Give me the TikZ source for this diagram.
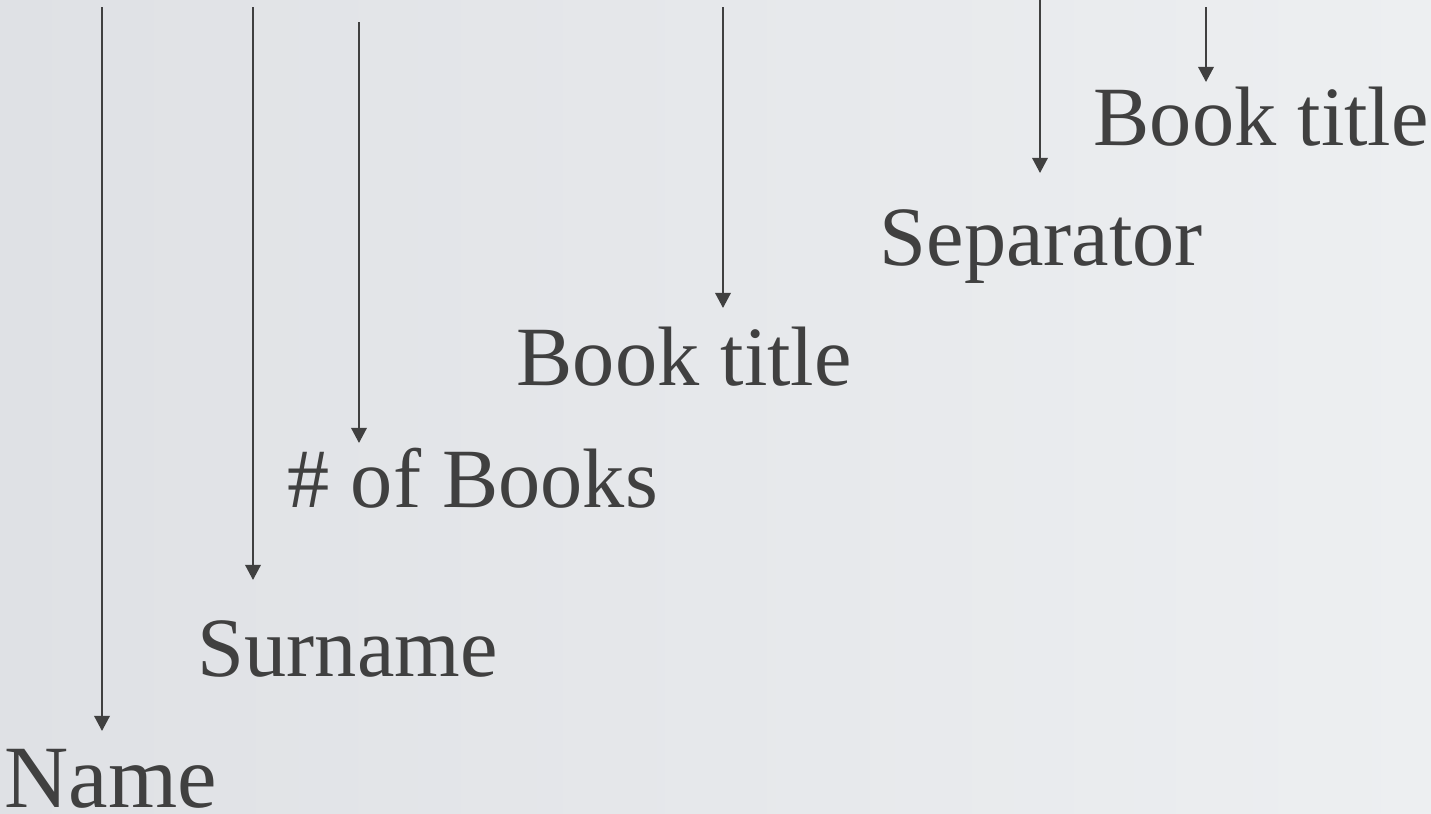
\documentclass[tikz,border=0pt]{standalone}
\usepackage{fontspec}
\setmainfont{Liberation Serif}
\usetikzlibrary{arrows.meta}
\definecolor{inkgray}{RGB}{64,64,64}
\definecolor{bgleft}{RGB}{223,225,229}
\definecolor{bgright}{RGB}{237,239,241}

\begin{document}
\begin{tikzpicture}[
  field/.style={font=\fontsize{24}{28}\selectfont, text=inkgray, inner sep=0pt, anchor=base west},
  pointer/.style={draw=inkgray, line width=0.6pt, -{Triangle[length=4.3pt, width=4.4pt]}}
]
  % Background
  \shade[left color=bgleft, right color=bgright] (0, 0) rectangle (14.31, -8.14);
  \useasboundingbox (0, 0) rectangle (14.31, -8.14);

  % Record fields
  \node[field, font=\fontsize{25.3}{29}\selectfont] (name) at (0.04, -8.07) {Name};
  \node[field] (surname) at (1.97, -6.76) {Surname};
  \node[field] (books) at (2.87, -5.07) {\# of Books};
  \node[field] (title1) at (5.16, -3.85) {Book title};
  \node[field] (separator) at (8.79, -2.65) {Separator};
  \node[field] (title2) at (10.93, -1.45) {Book title};

  % Arrow ends
  \coordinate (nameTop) at (1.02, -0.07);
  \coordinate (nameTip) at (1.02, -7.31);
  \coordinate (surnameTop) at (2.53, -0.07);
  \coordinate (surnameTip) at (2.53, -5.80);
  \coordinate (booksTop) at (3.59, -0.22);
  \coordinate (booksTip) at (3.59, -4.43);
  \coordinate (title1Top) at (7.23, -0.07);
  \coordinate (title1Tip) at (7.23, -3.08);
  \coordinate (separatorTop) at (10.40, 0);
  \coordinate (separatorTip) at (10.40, -1.73);
  \coordinate (title2Top) at (12.06, -0.07);
  \coordinate (title2Tip) at (12.06, -0.82);

  % Pointers down to the fields
  \draw[pointer] (nameTop) -- (nameTip);
  \draw[pointer] (surnameTop) -- (surnameTip);
  \draw[pointer] (booksTop) -- (booksTip);
  \draw[pointer] (title1Top) -- (title1Tip);
  \draw[pointer] (separatorTop) -- (separatorTip);
  \draw[pointer] (title2Top) -- (title2Tip);
\end{tikzpicture}
\end{document}
